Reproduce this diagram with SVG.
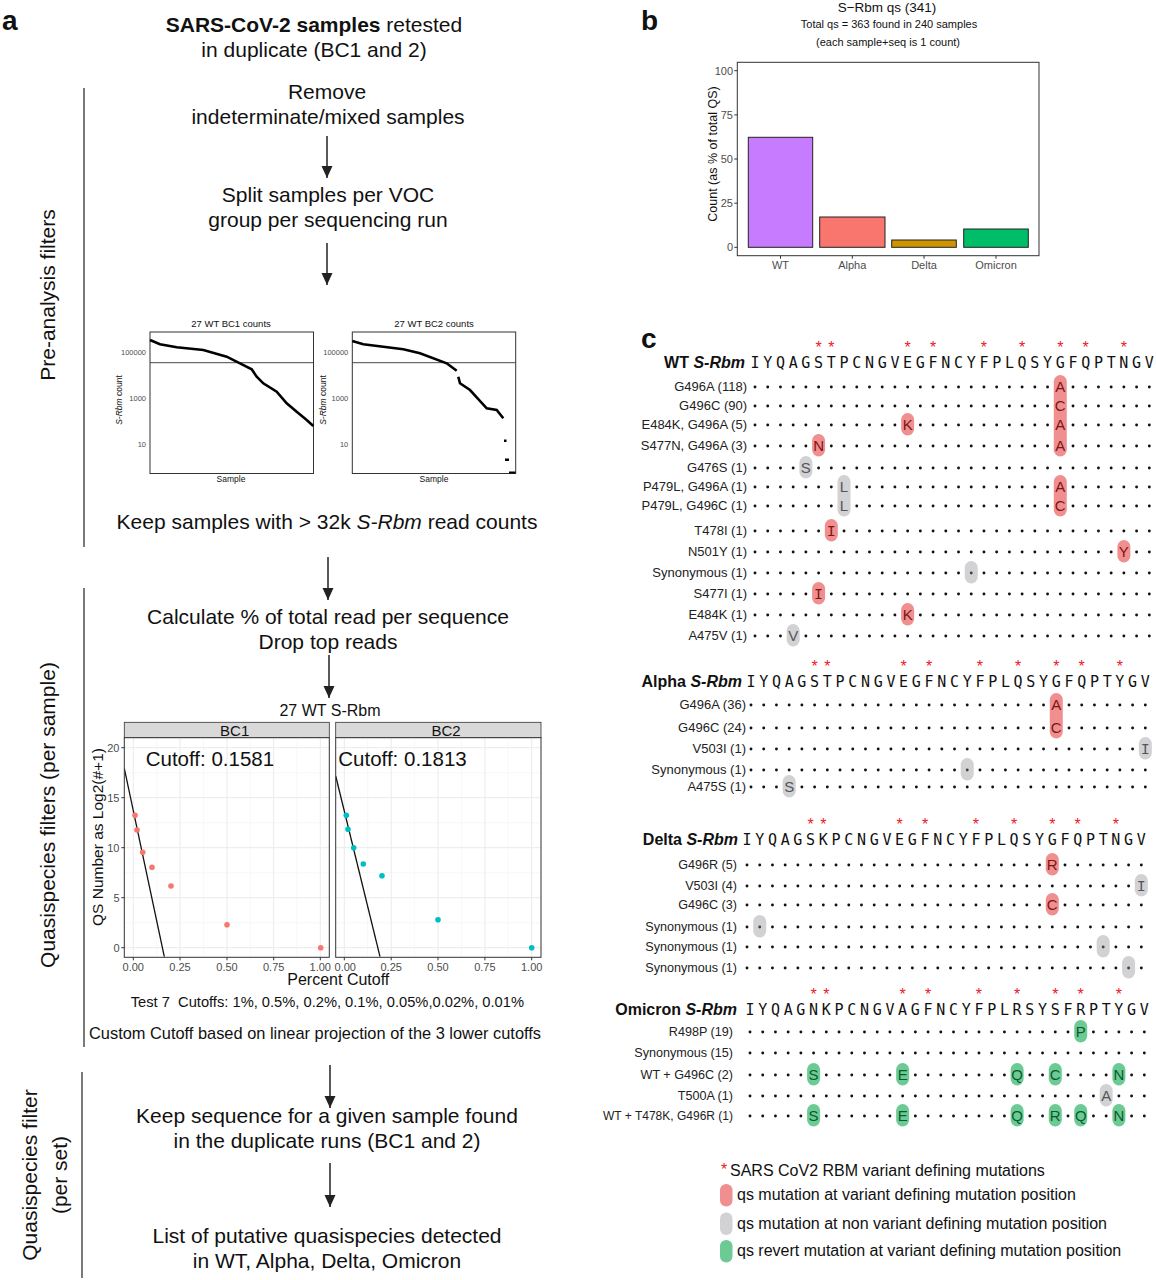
<svg xmlns="http://www.w3.org/2000/svg" width="1156" height="1280" viewBox="0 0 1156 1280">
<style>
text{font-family:"Liberation Sans",Arial,sans-serif;fill:#111}
.big{font-size:21px;text-anchor:middle}
.lab{font-size:28px;font-weight:bold}
.tk{fill:#4D4D4D}
.t11{font-size:11px}
.t75{font-size:7.5px}
.row{font-size:13px;text-anchor:end;fill:#222}
.row2{font-size:12.6px;text-anchor:end;fill:#222}
.hdr{font-size:16px;font-weight:bold;text-anchor:end}
.seq{font-family:"DejaVu Sans Mono","Liberation Mono",monospace;font-size:15px;text-anchor:middle}
.ast{font-size:16px;fill:#E8202A;text-anchor:middle}
.lt{font-size:15px;text-anchor:middle}
.mono{font-family:"Liberation Mono","DejaVu Sans Mono",monospace}
.br{fill:#F08F8F}.bg{fill:#D2D2D4}.bv{fill:#6CCB94}
.tr{fill:#7E1414}.tg{fill:#555}.tv{fill:#0C5A2C}
.arr{stroke:#222;stroke-width:1.5;fill:none;marker-end:url(#ah)}
.vl{stroke:#222;stroke-width:1.2}
.gmaj{stroke:#EBEBEB;stroke-width:1}
.gmin{stroke:#F4F4F4;stroke-width:0.6}
.frame{fill:none;stroke:#333;stroke-width:1}
.strip{fill:#D9D9D9;stroke:#333;stroke-width:0.8}
.leg{font-size:16px}
</style>
<defs>
<marker id="ah" markerUnits="userSpaceOnUse" markerWidth="12" markerHeight="12" refX="12" refY="6" orient="auto" viewBox="0 0 12 12">
<path d="M0,0.5 L12,6 L0,11.5 z" fill="#222"/>
</marker>
<g id="dotrow" fill="#111">
<circle cx="0" cy="0" r="1.45"/><circle cx="12.72" cy="0" r="1.45"/><circle cx="25.44" cy="0" r="1.45"/><circle cx="38.16" cy="0" r="1.45"/><circle cx="50.88" cy="0" r="1.45"/><circle cx="63.6" cy="0" r="1.45"/><circle cx="76.32" cy="0" r="1.45"/><circle cx="89.04" cy="0" r="1.45"/><circle cx="101.76" cy="0" r="1.45"/><circle cx="114.48" cy="0" r="1.45"/><circle cx="127.2" cy="0" r="1.45"/><circle cx="139.92" cy="0" r="1.45"/><circle cx="152.64" cy="0" r="1.45"/><circle cx="165.36" cy="0" r="1.45"/><circle cx="178.08" cy="0" r="1.45"/><circle cx="190.8" cy="0" r="1.45"/><circle cx="203.52" cy="0" r="1.45"/><circle cx="216.24" cy="0" r="1.45"/><circle cx="228.96" cy="0" r="1.45"/><circle cx="241.68" cy="0" r="1.45"/><circle cx="254.4" cy="0" r="1.45"/><circle cx="267.12" cy="0" r="1.45"/><circle cx="279.84" cy="0" r="1.45"/><circle cx="292.56" cy="0" r="1.45"/><circle cx="305.28" cy="0" r="1.45"/><circle cx="318" cy="0" r="1.45"/><circle cx="330.72" cy="0" r="1.45"/><circle cx="343.44" cy="0" r="1.45"/><circle cx="356.16" cy="0" r="1.45"/><circle cx="368.88" cy="0" r="1.45"/><circle cx="381.6" cy="0" r="1.45"/><circle cx="394.32" cy="0" r="1.45"/>
</g>
<clipPath id="cp1"><rect x="124.3" y="737.7" width="205" height="219.6"/></clipPath>
<clipPath id="cp2"><rect x="335.7" y="737.7" width="205.3" height="219.6"/></clipPath>
</defs>
<rect width="1156" height="1280" fill="#fff"/>

<!-- ===== Panel a ===== -->
<text class="lab" x="2" y="30">a</text>
<g id="n-title"><text class="big" x="314" y="32"><tspan font-weight="bold">SARS-CoV-2 samples</tspan> retested</text>
<text class="big" x="314" y="57">in duplicate (BC1 and 2)</text></g>
<g id="n-remove"><text class="big" x="327" y="99">Remove</text><text class="big" x="328" y="124">indeterminate/mixed samples</text></g>
<g id="n-split"><text class="big" x="328" y="202">Split samples per VOC</text><text class="big" x="328" y="227">group per sequencing run</text></g>

<g id="sections">
<line class="vl" x1="84" y1="88" x2="84" y2="547"/>
<text class="big" transform="translate(55,295) rotate(-90)">Pre-analysis filters</text>
<line class="vl" x1="84" y1="588" x2="84" y2="1047"/>
<text class="big" transform="translate(55,815) rotate(-90)">Quasispecies filters (per sample)</text>
<line class="vl" x1="82" y1="1072" x2="82" y2="1278"/>
<text class="big" transform="translate(37,1175) rotate(-90)">Quasispecies filter</text>
<text class="big" transform="translate(67,1175) rotate(-90)">(per set)</text>
</g>

<g id="n-countplots">
<text x="231" y="327" font-size="9.5" text-anchor="middle">27 WT BC1 counts</text>
<rect x="150" y="332" width="163.5" height="141.5" fill="#fff" stroke="#333" stroke-width="1"/>
<line x1="150" y1="362.7" x2="313.5" y2="362.7" stroke="#333" stroke-width="0.9"/>
<polyline points="150,340 160,344.3 176.7,347.3 203.3,350 226.7,356.7 240,363.3 251.7,369.3 256.7,376.7 263.3,383.3 276.7,391.7 286.7,403.3 296.7,411.7 306.7,420 313.3,426" fill="none" stroke="#000" stroke-width="2.6"/>
<g text-anchor="end"><text x="146" y="355" class="tk t75">100000</text><text x="146" y="401" class="tk t75">1000</text><text x="146" y="447" class="tk t75">10</text></g>
<text font-size="8.5" text-anchor="middle" transform="translate(122,400) rotate(-90)"><tspan font-style="italic">S-Rbm</tspan> count</text>
<text x="231" y="482" font-size="8.5" text-anchor="middle">Sample</text>

<text x="434" y="327" font-size="9.5" text-anchor="middle">27 WT BC2 counts</text>
<rect x="352.3" y="332" width="163.4" height="141.5" fill="#fff" stroke="#333" stroke-width="1"/>
<line x1="352.3" y1="362.7" x2="515.7" y2="362.7" stroke="#333" stroke-width="0.9"/>
<polyline points="352.3,341 363.3,344.3 403.3,349.3 420,353.3 446.7,363.3 456.7,370.7" fill="none" stroke="#000" stroke-width="2.6"/>
<polyline points="458.3,376.7 460,383.3 470,390 476.7,397.3 486.7,408.3 496.7,410 503.3,418.3" fill="none" stroke="#000" stroke-width="2.6"/>
<rect x="504" y="439.5" width="2.5" height="2.5" fill="#000"/>
<rect x="505" y="458.5" width="4" height="2.5" fill="#000"/>
<rect x="509" y="471.5" width="6.5" height="2" fill="#000"/>
<g text-anchor="end"><text x="348.3" y="355" class="tk t75">100000</text><text x="348.3" y="401" class="tk t75">1000</text><text x="348.3" y="447" class="tk t75">10</text></g>
<text font-size="8.5" text-anchor="middle" transform="translate(326.3,400) rotate(-90)"><tspan font-style="italic">S-Rbm</tspan> count</text>
<text x="434" y="482" font-size="8.5" text-anchor="middle">Sample</text>
</g>

<g id="n-keep"><text class="big" x="327" y="529">Keep samples with &gt; 32k <tspan font-style="italic">S-Rbm</tspan> read counts</text></g>
<g id="n-calc"><text class="big" x="328" y="624">Calculate % of total read per sequence</text><text class="big" x="328" y="649">Drop top reads</text></g>

<g id="n-cutplot">
<text x="330" y="716" font-size="16" text-anchor="middle">27 WT S-Rbm</text>
<rect class="strip" x="124.3" y="722.3" width="205" height="15.4"/>
<rect class="strip" x="335.7" y="722.3" width="205.3" height="15.4"/>
<text x="234.7" y="735.5" font-size="15" text-anchor="middle">BC1</text>
<text x="446" y="735.5" font-size="15" text-anchor="middle">BC2</text>
<rect x="124.3" y="737.7" width="205" height="219.6" fill="#fff"/>
<rect x="335.7" y="737.7" width="205.3" height="219.6" fill="#fff"/>
<g class="gmin">
<line x1="124.3" y1="772.7" x2="329.3" y2="772.7"/><line x1="124.3" y1="822.7" x2="329.3" y2="822.7"/><line x1="124.3" y1="872.7" x2="329.3" y2="872.7"/><line x1="124.3" y1="922.7" x2="329.3" y2="922.7"/>
<line x1="156.7" y1="737.7" x2="156.7" y2="957.3"/><line x1="203.5" y1="737.7" x2="203.5" y2="957.3"/><line x1="250.3" y1="737.7" x2="250.3" y2="957.3"/><line x1="297" y1="737.7" x2="297" y2="957.3"/>
<line x1="335.7" y1="772.7" x2="541" y2="772.7"/><line x1="335.7" y1="822.7" x2="541" y2="822.7"/><line x1="335.7" y1="872.7" x2="541" y2="872.7"/><line x1="335.7" y1="922.7" x2="541" y2="922.7"/>
<line x1="367.7" y1="737.7" x2="367.7" y2="957.3"/><line x1="414.6" y1="737.7" x2="414.6" y2="957.3"/><line x1="461.5" y1="737.7" x2="461.5" y2="957.3"/><line x1="508.3" y1="737.7" x2="508.3" y2="957.3"/>
</g>
<g class="gmaj">
<line x1="124.3" y1="747.7" x2="329.3" y2="747.7"/><line x1="124.3" y1="797.7" x2="329.3" y2="797.7"/><line x1="124.3" y1="847.7" x2="329.3" y2="847.7"/><line x1="124.3" y1="897.7" x2="329.3" y2="897.7"/><line x1="124.3" y1="947.7" x2="329.3" y2="947.7"/>
<line x1="133.3" y1="737.7" x2="133.3" y2="957.3"/><line x1="180" y1="737.7" x2="180" y2="957.3"/><line x1="227" y1="737.7" x2="227" y2="957.3"/><line x1="273.7" y1="737.7" x2="273.7" y2="957.3"/><line x1="320.3" y1="737.7" x2="320.3" y2="957.3"/>
<line x1="335.7" y1="747.7" x2="541" y2="747.7"/><line x1="335.7" y1="797.7" x2="541" y2="797.7"/><line x1="335.7" y1="847.7" x2="541" y2="847.7"/><line x1="335.7" y1="897.7" x2="541" y2="897.7"/><line x1="335.7" y1="947.7" x2="541" y2="947.7"/>
<line x1="344.3" y1="737.7" x2="344.3" y2="957.3"/><line x1="391.2" y1="737.7" x2="391.2" y2="957.3"/><line x1="438" y1="737.7" x2="438" y2="957.3"/><line x1="484.9" y1="737.7" x2="484.9" y2="957.3"/><line x1="531.7" y1="737.7" x2="531.7" y2="957.3"/>
</g>
<line x1="124.3" y1="768.3" x2="164.3" y2="956.7" stroke="#111" stroke-width="1.3" clip-path="url(#cp1)"/>
<line x1="335.7" y1="776" x2="380" y2="956.7" stroke="#111" stroke-width="1.3" clip-path="url(#cp2)"/>
<g fill="#F8766D">
<circle cx="135" cy="815.3" r="2.8"/><circle cx="137" cy="830" r="2.8"/><circle cx="142.7" cy="852.3" r="2.8"/><circle cx="152" cy="867.3" r="2.8"/><circle cx="171" cy="886" r="2.8"/><circle cx="227" cy="924.7" r="2.8"/><circle cx="320.7" cy="947.7" r="2.8"/>
</g>
<g fill="#00BFC4">
<circle cx="346.3" cy="815.3" r="2.8"/><circle cx="348" cy="829.3" r="2.8"/><circle cx="353.7" cy="847.7" r="2.8"/><circle cx="363.3" cy="864" r="2.8"/><circle cx="382" cy="875.7" r="2.8"/><circle cx="438" cy="919.7" r="2.8"/><circle cx="531.7" cy="947.7" r="2.8"/>
</g>
<text x="145.7" y="766" font-size="20.5" fill="#1a1a1a">Cutoff: 0.1581</text>
<text x="338.3" y="766" font-size="20.5" fill="#1a1a1a">Cutoff: 0.1813</text>
<rect class="frame" x="124.3" y="737.7" width="205" height="219.6"/>
<rect class="frame" x="335.7" y="737.7" width="205.3" height="219.6"/>
<g stroke="#333" stroke-width="1">
<line x1="121.3" y1="747.7" x2="124.3" y2="747.7"/><line x1="121.3" y1="797.7" x2="124.3" y2="797.7"/><line x1="121.3" y1="847.7" x2="124.3" y2="847.7"/><line x1="121.3" y1="897.7" x2="124.3" y2="897.7"/><line x1="121.3" y1="947.7" x2="124.3" y2="947.7"/>
<line x1="133.3" y1="957.3" x2="133.3" y2="960.3"/><line x1="180" y1="957.3" x2="180" y2="960.3"/><line x1="227" y1="957.3" x2="227" y2="960.3"/><line x1="273.7" y1="957.3" x2="273.7" y2="960.3"/><line x1="320.3" y1="957.3" x2="320.3" y2="960.3"/>
<line x1="344.3" y1="957.3" x2="344.3" y2="960.3"/><line x1="391.2" y1="957.3" x2="391.2" y2="960.3"/><line x1="438" y1="957.3" x2="438" y2="960.3"/><line x1="484.9" y1="957.3" x2="484.9" y2="960.3"/><line x1="531.7" y1="957.3" x2="531.7" y2="960.3"/>
</g>
<g text-anchor="end">
<text class="tk t11" x="119.5" y="751.7">20</text><text class="tk t11" x="119.5" y="801.7">15</text><text class="tk t11" x="119.5" y="851.7">10</text><text class="tk t11" x="119.5" y="901.7">5</text><text class="tk t11" x="119.5" y="951.7">0</text>
</g>
<g text-anchor="middle">
<text class="tk t11" x="133.3" y="971">0.00</text><text class="tk t11" x="180" y="971">0.25</text><text class="tk t11" x="227" y="971">0.50</text><text class="tk t11" x="273.7" y="971">0.75</text><text class="tk t11" x="320.3" y="971">1.00</text>
<text class="tk t11" x="345.3" y="971">0.00</text><text class="tk t11" x="391.2" y="971">0.25</text><text class="tk t11" x="438" y="971">0.50</text><text class="tk t11" x="484.9" y="971">0.75</text><text class="tk t11" x="531.7" y="971">1.00</text>
</g>
<text x="338.3" y="985" font-size="16" text-anchor="middle">Percent Cutoff</text>
<text font-size="15.5" text-anchor="middle" transform="translate(103,837) rotate(-90)">QS Number as Log2(#+1)</text>
<text x="130.7" y="1007" font-size="14.7" xml:space="preserve">Test 7  Cutoffs: 1%, 0.5%, 0.2%, 0.1%, 0.05%,0.02%, 0.01%</text>
<text x="89" y="1039" font-size="17" textLength="452" lengthAdjust="spacingAndGlyphs">Custom Cutoff based on linear projection of the 3 lower cutoffs</text>
</g>

<g id="n-keepseq"><text class="big" x="327" y="1123">Keep sequence for a given sample found</text><text class="big" x="327" y="1148">in the duplicate runs (BC1 and 2)</text></g>
<g id="n-list"><text class="big" x="327" y="1243">List of putative quasispecies detected</text><text class="big" x="327" y="1268">in WT, Alpha, Delta, Omicron</text></g>

<g id="connectors">
<line class="arr" x1="327" y1="136" x2="327" y2="178"/>
<line class="arr" x1="327" y1="243" x2="327" y2="285"/>
<line class="arr" x1="328" y1="557" x2="328" y2="600"/>
<line class="arr" x1="329" y1="655" x2="329" y2="698"/>
<line class="arr" x1="330" y1="1065" x2="330" y2="1108"/>
<line class="arr" x1="330" y1="1163" x2="330" y2="1207"/>
</g>

<!-- ===== Panel b ===== -->
<g id="n-barplot">
<text class="lab" x="641" y="30">b</text>
<text x="887" y="12" font-size="13.5" text-anchor="middle">S−Rbm qs (341)</text>
<text x="889" y="28" font-size="11" text-anchor="middle">Total qs = 363 found in 240 samples</text>
<text x="888" y="46" font-size="11" text-anchor="middle">(each sample+seq is 1 count)</text>
<rect x="748.3" y="137.3" width="64.4" height="110" fill="#C77CFF" stroke="#222" stroke-width="1"/>
<rect x="819.7" y="217" width="65.3" height="30.3" fill="#F8766D" stroke="#222" stroke-width="1"/>
<rect x="891.7" y="240" width="64.6" height="7.3" fill="#CD9600" stroke="#222" stroke-width="1"/>
<rect x="963.7" y="229" width="64.6" height="18.3" fill="#00BE67" stroke="#222" stroke-width="1"/>
<rect class="frame" x="737.3" y="62.3" width="301.7" height="193.4"/>
<g stroke="#333" stroke-width="1">
<line x1="734.3" y1="70.7" x2="737.3" y2="70.7"/><line x1="734.3" y1="114.9" x2="737.3" y2="114.9"/><line x1="734.3" y1="159" x2="737.3" y2="159"/><line x1="734.3" y1="203.2" x2="737.3" y2="203.2"/><line x1="734.3" y1="247.3" x2="737.3" y2="247.3"/>
<line x1="780.5" y1="255.7" x2="780.5" y2="258.7"/><line x1="852.3" y1="255.7" x2="852.3" y2="258.7"/><line x1="924" y1="255.7" x2="924" y2="258.7"/><line x1="996" y1="255.7" x2="996" y2="258.7"/>
</g>
<g text-anchor="end">
<text class="tk t11" x="733" y="74.7">100</text><text class="tk t11" x="733" y="118.9">75</text><text class="tk t11" x="733" y="163">50</text><text class="tk t11" x="733" y="207.2">25</text><text class="tk t11" x="733" y="251.3">0</text>
</g>
<g text-anchor="middle">
<text class="tk t11" x="780.5" y="269">WT</text><text class="tk t11" x="852.3" y="269">Alpha</text><text class="tk t11" x="924" y="269">Delta</text><text class="tk t11" x="996" y="269">Omicron</text>
</g>
<text font-size="12.5" text-anchor="middle" transform="translate(717,154) rotate(-90)">Count (as % of total QS)</text>
</g>

<!-- ===== Panel c ===== -->
<text class="lab" x="641" y="348">c</text>

<g id="n-wt">
<text class="hdr" x="745" y="368">WT <tspan font-style="italic">S-Rbm</tspan></text>
<g transform="translate(755,0)">
<text class="ast" y="353" x="63.6 76.32 152.64 178.08 228.96 267.12 305.28 330.72 368.88">*********</text>
<text class="seq" y="368" x="0 12.72 25.44 38.16 50.88 63.6 76.32 89.04 101.76 114.48 127.2 139.92 152.64 165.36 178.08 190.8 203.52 216.24 228.96 241.68 254.4 267.12 279.84 292.56 305.28 318 330.72 343.44 356.16 368.88 381.6 394.32">IYQAGSTPCNGVEGFNCYFPLQSYGFQPTNGV</text>
<use href="#dotrow" y="387"/><use href="#dotrow" y="406"/><use href="#dotrow" y="425"/><use href="#dotrow" y="446"/><use href="#dotrow" y="468"/><use href="#dotrow" y="487"/><use href="#dotrow" y="506"/><use href="#dotrow" y="531"/><use href="#dotrow" y="552"/><use href="#dotrow" y="573"/><use href="#dotrow" y="594"/><use href="#dotrow" y="615"/><use href="#dotrow" y="636"/>
<rect class="br" x="298.78" y="375" width="13" height="81.5" rx="6.5"/>
<text class="lt tr" x="305.28" y="392">A</text><text class="lt tr" x="305.28" y="411">C</text><text class="lt tr" x="305.28" y="430">A</text><text class="lt tr" x="305.28" y="451">A</text>
<rect class="br" x="146.14" y="413" width="13" height="22.5" rx="6.5"/><text class="lt tr" x="152.64" y="430">K</text>
<rect class="br" x="57.1" y="434" width="13" height="22.5" rx="6.5"/><text class="lt tr" x="63.6" y="451">N</text>
<rect class="bg" x="44.38" y="456" width="13" height="22.5" rx="6.5"/><text class="lt tg" x="50.88" y="473">S</text>
<rect class="bg" x="82.54" y="475" width="13" height="41.5" rx="6.5"/><text class="lt tg" x="89.04" y="492">L</text><text class="lt tg" x="89.04" y="511">L</text>
<rect class="br" x="298.78" y="475" width="13" height="41.5" rx="6.5"/><text class="lt tr" x="305.28" y="492">A</text><text class="lt tr" x="305.28" y="511">C</text>
<rect class="br" x="69.82" y="519" width="13" height="22.5" rx="6.5"/><text class="lt tr mono" x="76.32" y="536">I</text>
<rect class="br" x="362.38" y="540" width="13" height="22.5" rx="6.5"/><text class="lt tr" x="368.88" y="557">Y</text>
<rect class="bg" x="209.74" y="561" width="13" height="22.5" rx="6.5"/><circle cx="216.24" cy="573" r="1.45" fill="#444"/>
<rect class="br" x="57.1" y="582" width="13" height="22.5" rx="6.5"/><text class="lt tr mono" x="63.6" y="599">I</text>
<rect class="br" x="146.14" y="603" width="13" height="22.5" rx="6.5"/><text class="lt tr" x="152.64" y="620">K</text>
<rect class="bg" x="31.66" y="624" width="13" height="22.5" rx="6.5"/><text class="lt tg" x="38.16" y="641">V</text>
</g>
<text class="row" x="747" y="391">G496A (118)</text>
<text class="row" x="747" y="410">G496C (90)</text>
<text class="row" x="747" y="429">E484K, G496A (5)</text>
<text class="row" x="747" y="450">S477N, G496A (3)</text>
<text class="row" x="747" y="472">G476S (1)</text>
<text class="row" x="747" y="491">P479L, G496A (1)</text>
<text class="row" x="747" y="510">P479L, G496C (1)</text>
<text class="row" x="747" y="535">T478I (1)</text>
<text class="row" x="747" y="556">N501Y (1)</text>
<text class="row" x="747" y="577">Synonymous (1)</text>
<text class="row" x="747" y="598">S477I (1)</text>
<text class="row" x="747" y="619">E484K (1)</text>
<text class="row" x="747" y="640">A475V (1)</text>
</g>

<g id="n-alpha">
<text class="hdr" x="742" y="687">Alpha <tspan font-style="italic">S-Rbm</tspan></text>
<g transform="translate(751,0)">
<text class="ast" y="672" x="63.6 76.32 152.64 178.08 228.96 267.12 305.28 330.72 368.88">*********</text>
<text class="seq" y="687" x="0 12.72 25.44 38.16 50.88 63.6 76.32 89.04 101.76 114.48 127.2 139.92 152.64 165.36 178.08 190.8 203.52 216.24 228.96 241.68 254.4 267.12 279.84 292.56 305.28 318 330.72 343.44 356.16 368.88 381.6 394.32">IYQAGSTPCNGVEGFNCYFPLQSYGFQPTYGV</text>
<use href="#dotrow" y="705"/><use href="#dotrow" y="728"/><use href="#dotrow" y="749"/><use href="#dotrow" y="770"/><use href="#dotrow" y="787"/>
<rect class="br" x="298.78" y="693" width="13" height="45.5" rx="6.5"/><text class="lt tr" x="305.28" y="710">A</text><text class="lt tr" x="305.28" y="733">C</text>
<rect class="bg" x="387.82" y="737" width="13" height="22.5" rx="6.5"/><text class="lt tg mono" x="394.32" y="754">I</text>
<rect class="bg" x="209.74" y="758" width="13" height="22.5" rx="6.5"/><circle cx="216.24" cy="770" r="1.45" fill="#444"/>
<rect class="bg" x="31.66" y="775" width="13" height="22.5" rx="6.5"/><text class="lt tg" x="38.16" y="792">S</text>
</g>
<text class="row" x="746" y="709">G496A (36)</text>
<text class="row" x="746" y="732">G496C (24)</text>
<text class="row" x="746" y="753">V503I (1)</text>
<text class="row" x="746" y="774">Synonymous (1)</text>
<text class="row" x="746" y="791">A475S (1)</text>
</g>

<g id="n-delta">
<text class="hdr" x="738" y="845">Delta <tspan font-style="italic">S-Rbm</tspan></text>
<g transform="translate(747,0)">
<text class="ast" y="830" x="63.6 76.32 152.64 178.08 228.96 267.12 305.28 330.72 368.88">*********</text>
<text class="seq" y="845" x="0 12.72 25.44 38.16 50.88 63.6 76.32 89.04 101.76 114.48 127.2 139.92 152.64 165.36 178.08 190.8 203.52 216.24 228.96 241.68 254.4 267.12 279.84 292.56 305.28 318 330.72 343.44 356.16 368.88 381.6 394.32">IYQAGSKPCNGVEGFNCYFPLQSYGFQPTNGV</text>
<use href="#dotrow" y="865"/><use href="#dotrow" y="886"/><use href="#dotrow" y="905"/><use href="#dotrow" y="927"/><use href="#dotrow" y="947"/><use href="#dotrow" y="968"/>
<rect class="br" x="298.78" y="853" width="13" height="22.5" rx="6.5"/><text class="lt tr" x="305.28" y="870">R</text>
<rect class="bg" x="387.82" y="874" width="13" height="22.5" rx="6.5"/><text class="lt tg mono" x="394.32" y="891">I</text>
<rect class="br" x="298.78" y="893" width="13" height="22.5" rx="6.5"/><text class="lt tr" x="305.28" y="910">C</text>
<rect class="bg" x="6.22" y="915" width="13" height="22.5" rx="6.5"/><circle cx="12.72" cy="927" r="1.45" fill="#444"/>
<rect class="bg" x="349.66" y="935" width="13" height="22.5" rx="6.5"/><circle cx="356.16" cy="947" r="1.45" fill="#444"/>
<rect class="bg" x="375.1" y="956" width="13" height="22.5" rx="6.5"/><circle cx="381.6" cy="968" r="1.45" fill="#444"/>
</g>
<text class="row2" x="737" y="869">G496R (5)</text>
<text class="row2" x="737" y="890">V503I (4)</text>
<text class="row2" x="737" y="909">G496C (3)</text>
<text class="row2" x="737" y="931">Synonymous (1)</text>
<text class="row2" x="737" y="951">Synonymous (1)</text>
<text class="row2" x="737" y="972">Synonymous (1)</text>
</g>

<g id="n-omicron">
<text class="hdr" x="737" y="1015">Omicron <tspan font-style="italic">S-Rbm</tspan></text>
<g transform="translate(750,0)">
<text class="ast" y="1000" x="63.6 76.32 152.64 178.08 228.96 267.12 305.28 330.72 368.88">*********</text>
<text class="seq" y="1015" x="0 12.72 25.44 38.16 50.88 63.6 76.32 89.04 101.76 114.48 127.2 139.92 152.64 165.36 178.08 190.8 203.52 216.24 228.96 241.68 254.4 267.12 279.84 292.56 305.28 318 330.72 343.44 356.16 368.88 381.6 394.32">IYQAGNKPCNGVAGFNCYFPLRSYSFRPTYGV</text>
<use href="#dotrow" y="1032"/><use href="#dotrow" y="1053"/><use href="#dotrow" y="1075"/><use href="#dotrow" y="1096"/><use href="#dotrow" y="1116"/>
<rect class="bv" x="324.22" y="1020" width="13" height="22.5" rx="6.5"/><text class="lt tv" x="330.72" y="1037">P</text>
<rect class="bv" x="57.1" y="1063" width="13" height="22.5" rx="6.5"/><text class="lt tv" x="63.6" y="1080">S</text>
<rect class="bv" x="146.14" y="1063" width="13" height="22.5" rx="6.5"/><text class="lt tv" x="152.64" y="1080">E</text>
<rect class="bv" x="260.62" y="1063" width="13" height="22.5" rx="6.5"/><text class="lt tv" x="267.12" y="1080">Q</text>
<rect class="bv" x="298.78" y="1063" width="13" height="22.5" rx="6.5"/><text class="lt tv" x="305.28" y="1080">C</text>
<rect class="bv" x="362.38" y="1063" width="13" height="22.5" rx="6.5"/><text class="lt tv" x="368.88" y="1080">N</text>
<rect class="bg" x="349.66" y="1084" width="13" height="22.5" rx="6.5"/><text class="lt tg" x="356.16" y="1101">A</text>
<rect class="bv" x="57.1" y="1104" width="13" height="22.5" rx="6.5"/><text class="lt tv" x="63.6" y="1121">S</text>
<rect class="bv" x="146.14" y="1104" width="13" height="22.5" rx="6.5"/><text class="lt tv" x="152.64" y="1121">E</text>
<rect class="bv" x="260.62" y="1104" width="13" height="22.5" rx="6.5"/><text class="lt tv" x="267.12" y="1121">Q</text>
<rect class="bv" x="298.78" y="1104" width="13" height="22.5" rx="6.5"/><text class="lt tv" x="305.28" y="1121">R</text>
<rect class="bv" x="324.22" y="1104" width="13" height="22.5" rx="6.5"/><text class="lt tv" x="330.72" y="1121">Q</text>
<rect class="bv" x="362.38" y="1104" width="13" height="22.5" rx="6.5"/><text class="lt tv" x="368.88" y="1121">N</text>
</g>
<text class="row2" x="733" y="1036">R498P (19)</text>
<text class="row2" x="733" y="1057">Synonymous (15)</text>
<text class="row2" x="733" y="1079">WT + G496C (2)</text>
<text class="row2" x="733" y="1100">T500A (1)</text>
<text class="row" x="733" y="1120" style="font-size:12px">WT + T478K, G496R (1)</text>
</g>

<g id="n-legend">
<text x="721" y="1175" class="leg" style="fill:#E8202A">*</text>
<text x="730" y="1176" class="leg">SARS CoV2 RBM variant defining mutations</text>
<rect class="br" x="720" y="1184" width="12.5" height="22.5" rx="6.2"/>
<text x="737" y="1199.5" class="leg">qs mutation at variant defining mutation position</text>
<rect class="bg" x="720" y="1212.5" width="12.5" height="22.5" rx="6.2"/>
<text x="737" y="1229" class="leg">qs mutation at non variant defining mutation position</text>
<rect class="bv" x="720" y="1240" width="12.5" height="22.5" rx="6.2"/>
<text x="737" y="1256" class="leg">qs revert mutation at variant defining mutation position</text>
</g>
</svg>
